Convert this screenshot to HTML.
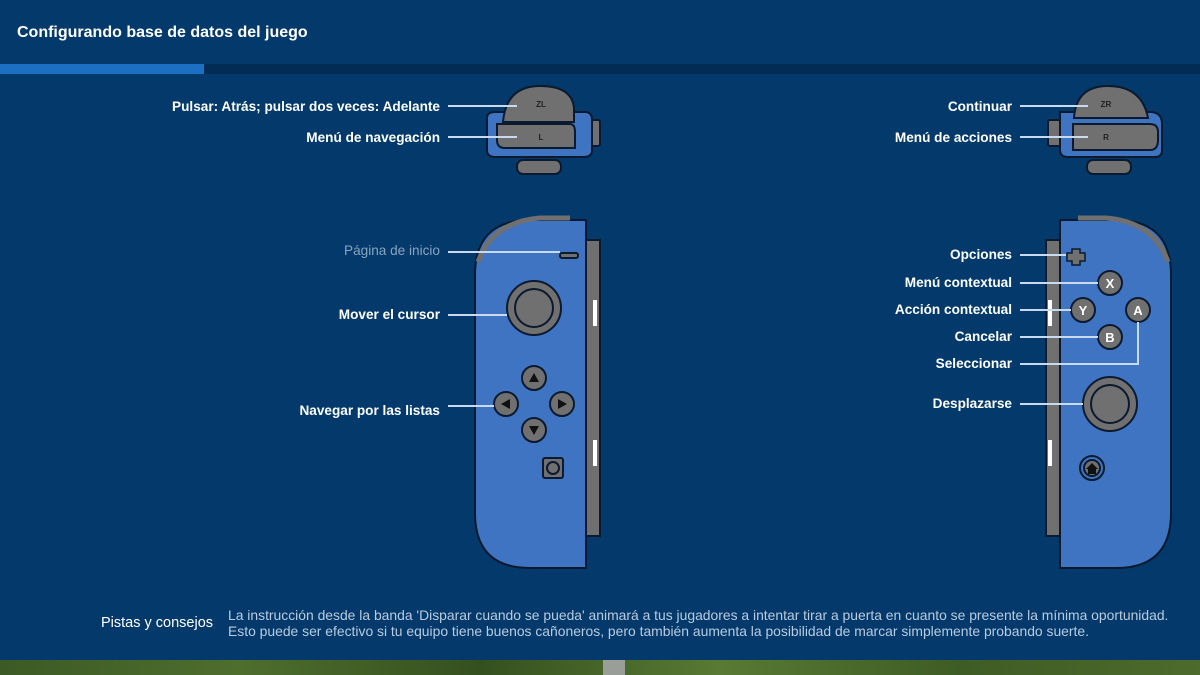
<!DOCTYPE html>
<html><head><meta charset="utf-8"><style>
html,body{margin:0;padding:0}
body{width:1200px;height:675px;background:#033a6b;position:relative;overflow:hidden;font-family:"Liberation Sans",sans-serif;color:#fff}
.t{position:absolute;font-size:13.6px;font-weight:bold;white-space:nowrap}
.r{text-align:right}
</style></head><body>
<div class="t" style="left:17px;top:24px;font-size:16px">Configurando base de datos del juego</div>
<div style="position:absolute;left:0;top:64px;width:1200px;height:10px;background:#022c54"></div>
<div style="position:absolute;left:0;top:64px;width:204px;height:10px;background:#1b70c4"></div>

<div class="t r" style="right:760px;top:99px">Pulsar: Atrás; pulsar dos veces: Adelante</div>
<div class="t r" style="right:760px;top:130px">Menú de navegación</div>
<div class="t r" style="right:760px;top:243px;font-weight:normal;color:#8aa3bf">Página de inicio</div>
<div class="t r" style="right:760px;top:307px">Mover el cursor</div>
<div class="t r" style="right:760px;top:403px">Navegar por las listas</div>

<div class="t r" style="right:188px;top:99px">Continuar</div>
<div class="t r" style="right:188px;top:130px">Menú de acciones</div>
<div class="t r" style="right:188px;top:247px">Opciones</div>
<div class="t r" style="right:188px;top:275px">Menú contextual</div>
<div class="t r" style="right:188px;top:302px">Acción contextual</div>
<div class="t r" style="right:188px;top:329px">Cancelar</div>
<div class="t r" style="right:188px;top:356px">Seleccionar</div>
<div class="t r" style="right:188px;top:396px">Desplazarse</div>

<svg width="1200" height="675" style="position:absolute;left:0;top:0">
<g stroke="#0b1a2e" stroke-width="2">
<rect x="517" y="160" width="44" height="14" rx="6" fill="#707070"/>
<rect x="586" y="120" width="14" height="26" rx="2" fill="#707070"/>
<path d="M487 118 Q487 112 495 112 L585 112 Q592 112 592 120 L592 150 Q592 157 584 157 L495 157 Q487 157 487 150Z" fill="#3f74c3"/>
<path d="M503 122 Q506 86 540 86 Q572 86 574 108 L574 122Z" fill="#707070"/>
<path d="M497 124 L570 124 Q575 124 575 132 L575 148 L505 148 Q497 148 497 140Z" fill="#707070"/>
<rect x="1087" y="160" width="44" height="14" rx="6" fill="#707070"/>
<rect x="1048" y="120" width="14" height="26" rx="2" fill="#707070"/>
<path d="M1060 112 L1150 112 Q1162 112 1162 124 L1162 150 Q1162 157 1155 157 L1068 157 Q1060 157 1060 150Z" fill="#3f74c3"/>
<path d="M1074 118 Q1076 86 1108 86 Q1142 86 1148 118Z" fill="#707070"/>
<path d="M1073 124 L1150 124 Q1158 124 1158 132 L1158 140 Q1158 150 1150 150 L1073 150Z" fill="#707070"/>

<rect x="584" y="240" width="16" height="296" fill="#707070"/>
<path d="M530 220 L586 220 L586 568 L530 568 Q475 568 475 513 L475 275 Q475 220 530 220Z" fill="#3f74c3"/>
<path d="M478 262 Q492 222 540 218 L570 218" fill="none" stroke="#707070" stroke-width="5"/>
<rect x="560" y="253" width="18" height="5" rx="2" fill="#707070"/>
<circle cx="534" cy="308" r="27" fill="#707070"/><circle cx="534" cy="308" r="19" fill="#707070"/>
<circle cx="534" cy="378" r="12" fill="#707070"/><circle cx="506" cy="404" r="12" fill="#707070"/>
<circle cx="562" cy="404" r="12" fill="#707070"/><circle cx="534" cy="430" r="12" fill="#707070"/>
<rect x="543" y="458" width="20" height="20" rx="2" fill="#707070"/><circle cx="553" cy="468" r="6" fill="#707070"/>
<rect x="1046" y="240" width="14" height="296" fill="#707070"/>
<path d="M1060 220 L1116 220 Q1171 220 1171 275 L1171 513 Q1171 568 1116 568 L1060 568Z" fill="#3f74c3"/>
<path d="M1168 262 Q1154 222 1106 218 L1078 218" fill="none" stroke="#707070" stroke-width="5"/>
<path d="M1072 249 h8 v4 h5 v8 h-5 v4 h-8 v-4 h-5 v-8 h5z" fill="#707070" stroke-width="1.5"/>
<circle cx="1110" cy="283" r="12" fill="#707070"/><circle cx="1083" cy="310" r="12" fill="#707070"/>
<circle cx="1138" cy="310" r="12" fill="#707070"/><circle cx="1110" cy="337" r="12" fill="#707070"/>
<circle cx="1110" cy="404" r="27" fill="#707070"/><circle cx="1110" cy="404" r="19" fill="#707070"/>
<circle cx="1092" cy="468" r="12" fill="#3f74c3"/><circle cx="1092" cy="468" r="8" fill="#707070"/>
</g>
<g fill="#fff">
<rect x="593" y="300" width="4" height="26"/><rect x="593" y="440" width="4" height="26"/>
<rect x="1048" y="300" width="4" height="26"/><rect x="1048" y="440" width="4" height="26"/>
</g>
<g fill="#111">
<polygon points="534,373 529,382 539,382"/><polygon points="534,435 529,426 539,426"/>
<polygon points="501,404 510,399 510,409"/><polygon points="567,404 558,399 558,409"/>
<polygon points="1092,463 1086,469 1098,469"/><rect x="1088" y="469" width="8" height="5"/>
</g>
<g font-family="Liberation Sans,sans-serif" font-size="8" font-weight="bold" fill="#222" text-anchor="middle">
<text x="541" y="107">ZL</text><text x="541" y="140">L</text>
<text x="1106" y="107">ZR</text><text x="1106" y="140">R</text>
</g>
<g font-family="Liberation Sans,sans-serif" font-size="13" font-weight="bold" fill="#fff" text-anchor="middle">
<text x="1110" y="288">X</text><text x="1083" y="315">Y</text><text x="1138" y="315">A</text><text x="1110" y="342">B</text>
</g>
<g stroke="#c9d9ee" stroke-width="2" fill="none">
<line x1="448" y1="106" x2="517" y2="106"/><line x1="448" y1="137" x2="517" y2="137"/>
<line x1="448" y1="252" x2="560" y2="252"/><line x1="448" y1="315" x2="507" y2="315"/>
<line x1="448" y1="406" x2="494" y2="406"/>
<line x1="1020" y1="106" x2="1088" y2="106"/><line x1="1020" y1="137" x2="1088" y2="137"/>
<line x1="1020" y1="255" x2="1066" y2="255"/><line x1="1020" y1="283" x2="1098" y2="283"/>
<line x1="1020" y1="310" x2="1071" y2="310"/><line x1="1020" y1="337" x2="1098" y2="337"/>
<polyline points="1020,364 1138,364 1138,322"/><line x1="1020" y1="404" x2="1083" y2="404"/>
</g>
</svg>

<div class="t" style="left:101px;top:615px;font-weight:normal;font-size:14.5px">Pistas y consejos</div>
<div style="position:absolute;left:228px;top:607px;font-size:13.9px;line-height:16px;color:#b9cbe0;white-space:nowrap">La instrucción desde la banda 'Disparar cuando se pueda' animará a tus jugadores a intentar tirar a puerta en cuanto se presente la mínima oportunidad.<br>Esto puede ser efectivo si tu equipo tiene buenos cañoneros, pero también aumenta la posibilidad de marcar simplemente probando suerte.</div>
<div style="position:absolute;left:0;top:660px;width:1200px;height:15px;background:linear-gradient(90deg,#3c5a25,#4e6e2e,#35501f,#587a34,#3e5c25,#4d6b2c)"></div>
<div style="position:absolute;left:603px;top:660px;width:22px;height:15px;background:#9a9e98"></div>
</body></html>
